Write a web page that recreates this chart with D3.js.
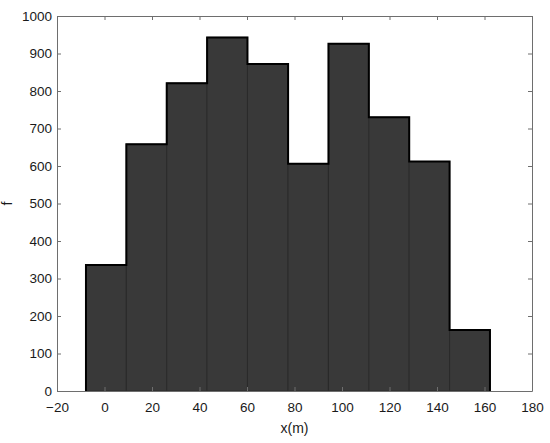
<!DOCTYPE html>
<html>
<head>
<meta charset="utf-8">
<script src="https://cdn.jsdelivr.net/npm/d3@7"></script>
<style>
  body { margin: 0; background: #fff; }
  text { font-family: "Liberation Sans", Arial, sans-serif; fill: #1a1a1a; }
</style>
</head>
<body>
<script>
// SVG size
const w = 550;
const h = 443;
const margin = { top: 16, right: 18, bottom: 52, left: 57 };

// Histogram data: bin edges and counts
const binEdges = [-7.8, 9.2, 26.2, 43.2, 60.2, 77.3, 94.3, 111.3, 128.3, 145.3, 162.3];
const counts = [336, 658, 821, 943, 872, 606, 926, 730, 612, 163];
const xTicks = [-20, 0, 20, 40, 60, 80, 100, 120, 140, 160, 180];
const yTicks = [0, 100, 200, 300, 400, 500, 600, 700, 800, 900, 1000];

const bins = counts.map((c, i) => ({ x0: binEdges[i], x1: binEdges[i + 1], n: c }));

// Scales
const xScale = d3.scaleLinear().domain([-20, 180]).range([margin.left, w - margin.right]);
const yScale = d3.scaleLinear().domain([0, 1000]).range([h - margin.bottom, margin.top]);

const svg = d3.select("body").append("svg")
    .attr("width", w)
    .attr("height", h);

// Bars
svg.append("g")
    .selectAll("rect")
    .data(bins)
    .join("rect")
    .attr("x", d => xScale(d.x0))
    .attr("y", d => yScale(d.n))
    .attr("width", d => xScale(d.x1) - xScale(d.x0))
    .attr("height", d => yScale(0) - yScale(d.n))
    .attr("fill", "#393939")
    .attr("stroke", "#2a2a2a")
    .attr("stroke-width", 1);

// Outer outline of the histogram
const outline = [[bins[0].x0, 0]];
bins.forEach(d => { outline.push([d.x0, d.n]); outline.push([d.x1, d.n]); });
outline.push([bins[bins.length - 1].x1, 0]);
svg.append("path")
    .datum(outline)
    .attr("fill", "none")
    .attr("stroke", "#000")
    .attr("stroke-width", 2)
    .attr("d", d3.line().x(d => xScale(d[0])).y(d => yScale(d[1])));

// Axes (ticks inside, mirrored on top/right)
const axisColor = "#6e6e6e";
const bottomAxis = d3.axisBottom(xScale).tickValues(xTicks).tickSizeInner(-4).tickSizeOuter(0).tickPadding(11)
    .tickFormat(d => d < 0 ? "\u2212" + Math.abs(d) : d);
const leftAxis = d3.axisLeft(yScale).tickValues(yTicks).tickSizeInner(-4).tickSizeOuter(0).tickPadding(5)
    .tickFormat(d3.format("d"));
const topAxis = d3.axisTop(xScale).tickValues(xTicks).tickSizeInner(-4).tickSizeOuter(0).tickFormat("");
const rightAxis = d3.axisRight(yScale).tickValues(yTicks).tickSizeInner(-4).tickSizeOuter(0).tickFormat("");

function styleAxis(g) {
    g.select(".domain").attr("stroke", axisColor);
    g.selectAll(".tick line").attr("stroke", axisColor);
    g.selectAll(".tick text").attr("fill", "#1a1a1a").style("font-size", "13.5px")
        .style("font-family", "'Liberation Sans', Arial, sans-serif");
}

svg.append("g").attr("transform", `translate(0,${h - margin.bottom})`).call(bottomAxis).call(styleAxis);
svg.append("g").attr("transform", `translate(${margin.left},0)`).call(leftAxis).call(styleAxis);
svg.append("g").attr("transform", `translate(0,${margin.top})`).call(topAxis).call(styleAxis);
svg.append("g").attr("transform", `translate(${w - margin.right},0)`).call(rightAxis).call(styleAxis);

// Axis labels
svg.append("text")
    .attr("x", (margin.left + w - margin.right) / 2)
    .attr("y", 433)
    .attr("text-anchor", "middle")
    .style("font-size", "14px")
    .text("x(m)");

svg.append("text")
    .attr("transform", "rotate(-90)")
    .attr("x", -yScale(500))
    .attr("y", 12)
    .attr("text-anchor", "middle")
    .style("font-size", "14px")
    .text("f");
</script>
</body>
</html>
